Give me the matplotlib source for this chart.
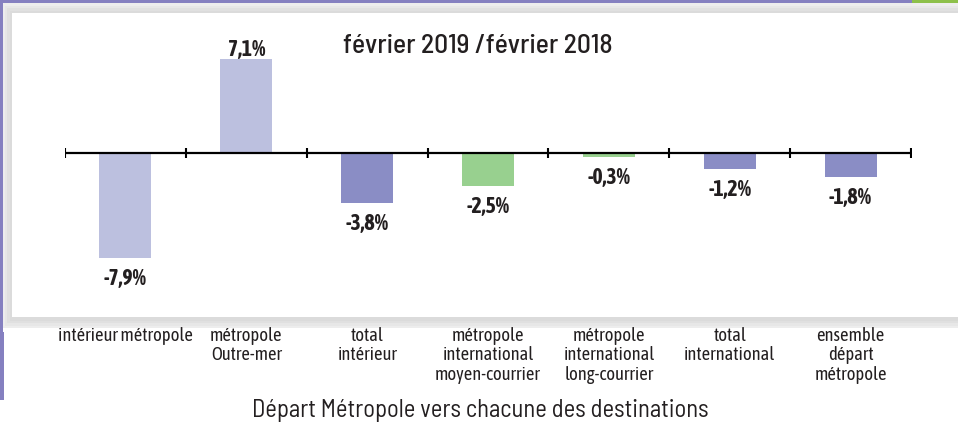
import matplotlib
matplotlib.use("Agg")
import matplotlib.pyplot as plt
from matplotlib.patches import Rectangle

categories = ["intérieur métropole", "métropole\nOutre-mer", "total\nintérieur",
              "métropole\ninternational\nmoyen-courrier", "métropole\ninternational\nlong-courrier",
              "total\ninternational", "ensemble\ndépart\nmétropole"]
values = [-7.9, 7.1, -3.8, -2.5, -0.3, -1.2, -1.8]
labels = ["-7,9%", "7,1%", "-3,8%", "-2,5%", "-0,3%", "-1,2%", "-1,8%"]
colors = ["#BCC0DF", "#BCC0DF", "#8A8DC5", "#98D08F", "#98D08F", "#8A8DC5", "#8A8DC5"]
title = "février 2019 /février 2018"
xlabel = "Départ Métropole vers chacune des destinations"

COND = ["Asap Condensed", "Barlow Condensed", "DejaVu Sans"]
SEMI = ["Barlow Semi Condensed", "Asap Condensed", "DejaVu Sans"]
INK = "#231F20"

W, H = 958, 428
fig = plt.figure(figsize=(W / 100, H / 100), dpi=100)
fig.patch.set_facecolor("white")
renderer = fig.canvas.get_renderer()


def px(x0, y0, x1, y1):
    return (x0 / W, 1 - y1 / H, (x1 - x0) / W, (y1 - y0) / H)


def fit(t, target_px):
    bb = t.get_window_extent(renderer=renderer)
    t.set_fontsize(t.get_fontsize() * target_px / bb.width)


# shadow around panel
for i, g in enumerate([0.93, 0.905, 0.88, 0.86]):
    d = 10 - i * 2.5
    l, b, w, h = px(12 - d, 13 - d, W + 5, 318 + d)
    fig.patches.append(Rectangle((l, b), w, h, transform=fig.transFigure,
                                 facecolor=(g, g, g), edgecolor="none", zorder=0))
l, b, w, h = px(12, 13, W + 5, 317)
fig.patches.append(Rectangle((l, b), w, h, transform=fig.transFigure,
                             facecolor="white", edgecolor="none", zorder=1))
# frame strips
for (x0, y0, x1, y1, c) in [(0, 0, 912, 2.5, "#8580C0"), (912, 0, W, 2.5, "#8DC04A"),
                            (0, 0, 2.5, 332, "#8580C0"), (0, 332, 3.5, 400, "#8580C0")]:
    l, b, w, h = px(x0, y0, x1, y1)
    fig.patches.append(Rectangle((l, b), w, h, transform=fig.transFigure,
                                 facecolor=c, edgecolor="none", zorder=2))

ax = fig.add_axes(px(65, 13, 911, 317))
ax.set_facecolor("none")
ax.set_zorder(3)
scale = 13.24
ax.set_ylim(-(317 - 153) / scale, (153 - 13) / scale)
ax.set_xlim(-0.5, len(values) - 0.5)

xs = list(range(len(values)))
ax.bar(xs, values, width=0.43, color=colors, edgecolor="none", zorder=2)
ax.axhline(0, color="black", lw=1.6, zorder=3)
bounds = [i - 0.5 for i in range(len(values) + 1)]
ax.plot(bounds, [0] * len(bounds), ls="none", marker="|", ms=7.5, mew=1.5, color="black", zorder=3)

vals_txt = []
for x, v, t in zip(xs, values, labels):
    dy = 2.5 if v >= 0 else -19.5
    a = ax.annotate(t, (x, v), xytext=(0, dy), textcoords="offset points", ha="center",
                    va="baseline", fontsize=12, fontweight="bold", family=COND, color=INK)
    vals_txt.append(a)
fit(vals_txt[0], 43)
fs = vals_txt[0].get_fontsize()
for a in vals_txt:
    a.set_fontsize(fs)

ax.set_xticks(xs)
ax.set_xticklabels(categories, fontsize=11, family=COND, linespacing=1.12, color=INK)
ax.tick_params(axis="x", length=0, pad=7)
ticklabels = ax.get_xticklabels()
fit(ticklabels[0], 134)
fs = ticklabels[0].get_fontsize()
for tl in ticklabels:
    tl.set_fontsize(fs)
ax.set_yticks([])
for s in ax.spines.values():
    s.set_visible(False)

t1 = fig.text(478 / W, 1 - 46 / H, title, ha="center", va="center", fontsize=16,
              family=SEMI, fontweight="medium", color=INK, zorder=5)
fit(t1, 270)
t2 = fig.text(480 / W, 1 - 410 / H, xlabel, ha="center", va="center", fontsize=14.5,
              family=SEMI, color=INK, zorder=5)
fit(t2, 455)

fig.savefig("out.png", dpi=100)
